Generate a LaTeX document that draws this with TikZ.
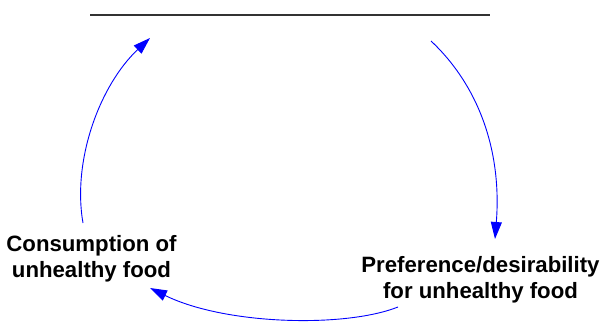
\documentclass[tikz,border=0pt]{standalone}
\usepackage{fontspec}
\setmainfont{Liberation Sans}
\usetikzlibrary{arrows.meta}
\definecolor{linkblue}{RGB}{0,0,255}
\tikzset{
  varlabel/.style={font=\bfseries\fontsize{22.2}{26}\selectfont, align=center, inner sep=0pt},
  link/.style={draw=linkblue, line width=0.9pt, -{Triangle[length=17pt,width=11pt]}},
  topline/.style={draw=black!80, line width=1.5pt}
}
\begin{document}
\begin{tikzpicture}[x=1pt,y=-1pt]
\useasboundingbox (0,0) rectangle (606,325);
\coordinate (tl) at (90,15);
\coordinate (tr) at (490,15);
\draw[topline] (tl) -- (tr);
\node[varlabel] (cons) at (91.5,259) {Consumption of\\unhealthy food};
\node[varlabel] (pref) at (480.5,280) {Preference/desirability\\for unhealthy food};
\coordinate (a1s) at (83,223);
\coordinate (a1e) at (150,38);
\coordinate (a2s) at (431,41);
\coordinate (a2e) at (495,239);
\coordinate (a3s) at (398,307);
\coordinate (a3e) at (150,288);
\draw[link] (a1s) .. controls (72,160) and (100,85) .. (a1e);
\draw[link] (a2s) .. controls (478,85) and (502,150) .. (a2e);
\draw[link] (a3s) .. controls (345,328) and (225,325) .. (a3e);
\end{tikzpicture}
\end{document}
